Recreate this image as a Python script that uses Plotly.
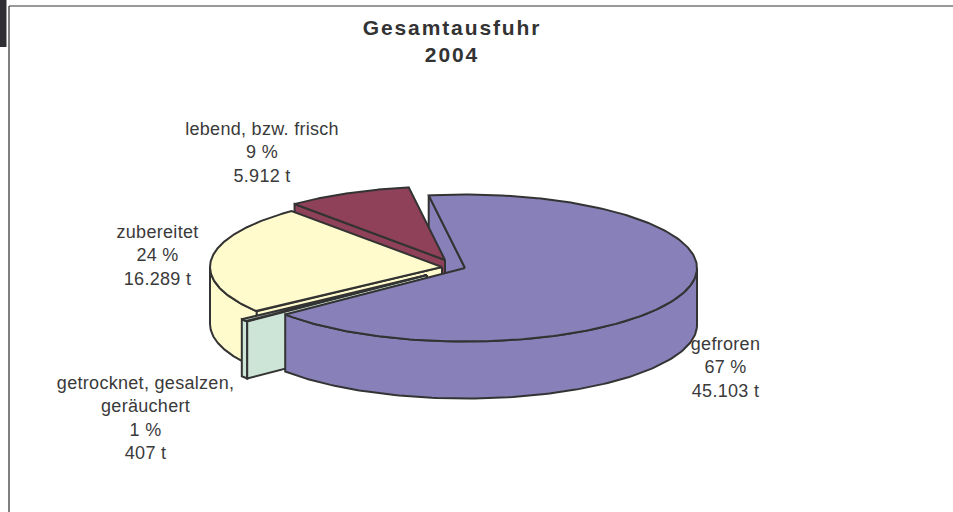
import numpy as np
import plotly.graph_objects as go

categories = ["gefroren", "getrocknet, gesalzen,<br>geräuchert", "zubereitet", "lebend, bzw. frisch"]
tonnes = [45103, 407, 16289, 5912]
percent_labels = ["67 %", "1 %", "24 %", "9 %"]
tonne_labels = ["45.103 t", "407 t", "16.289 t", "5.912 t"]
colors = ["#8780B9", "#CCE5D6", "#FFFBCD", "#8F4159"]
title_lines = ["Gesamtausfuhr", "2004"]

# pie projection
CX, CY, RX, RY, DEPTH = 465, 268, 232, 73.5, 57
START = -9
offsets = [(0, 0), (-38, 7), (-23, -1), (-20, -8)]
label_pos = [(725, 367), (145, 418), (157, 255), (262, 152)]
EDGE = "#333333"

total = sum(tonnes)
bounds = START + np.concatenate([[0], np.cumsum(tonnes)]) * 360 / total


def pt(a, ox, oy, dz=0):
    r = np.radians(a)
    return CX + ox + RX * np.sin(r), CY + oy - RY * np.cos(r) + dz


fig = go.Figure()


def poly(xs, ys, color):
    fig.add_trace(go.Scatter(x=list(xs) + [xs[0]], y=list(ys) + [ys[0]], mode="lines", fill="toself",
                             fillcolor=color, line=dict(color=EDGE, width=2), hoverinfo="skip",
                             showlegend=False))


def start_face(i):
    ox, oy = offsets[i]
    a = bounds[i]
    x, y = pt(a, ox, oy)
    ax, ay = CX + ox, CY + oy
    poly([ax, x, x, ax], [ay, y, y + DEPTH, ay + DEPTH], colors[i])


def rim(i):
    ox, oy = offsets[i]
    lo, hi = max(bounds[i], 90), min(bounds[i + 1], 270)
    if lo >= hi:
        return
    t = np.linspace(lo, hi, 120)
    x, y = pt(t, ox, oy)
    poly(np.r_[x, x[::-1]], np.r_[y, y[::-1] + DEPTH], colors[i])


def top(i):
    ox, oy = offsets[i]
    t = np.linspace(bounds[i], bounds[i + 1], 240)
    x, y = pt(t, ox, oy)
    poly(np.r_[CX + ox, x], np.r_[CY + oy, y], colors[i])


start_face(0)
start_face(3)
top(3)
rim(2)
start_face(2)
top(2)
rim(1)
start_face(1)
top(1)
rim(0)
top(0)

annotations = [dict(x=452, y=41, xref="x", yref="y", showarrow=False,
                    text="<b>" + "<br>".join(title_lines) + "</b>",
                    font=dict(family="Liberation Sans", size=21, color="#333333"))]
for c, p, n, (lx, ly) in zip(categories, percent_labels, tonne_labels, label_pos):
    annotations.append(dict(x=lx, y=ly, xref="x", yref="y", showarrow=False,
                            text=f"{c}<br>{p}<br>{n}",
                            font=dict(family="Liberation Sans", size=18, color="#3a3a3a")))

shapes = [
    dict(type="rect", x0=0, x1=6.5, y0=0, y1=47, fillcolor="#2e2e33", line_width=0),
    dict(type="line", x0=9, x1=953, y0=6, y1=6, line=dict(color="#777777", width=1.5)),
    dict(type="line", x0=9, x1=9, y0=6, y1=512, line=dict(color="#555555", width=1.5)),
]

fig.update_layout(width=953, height=512, margin=dict(l=0, r=0, t=0, b=0), autosize=False,
                  paper_bgcolor="white", plot_bgcolor="white", showlegend=False,
                  xaxis=dict(range=[0, 953], visible=False, fixedrange=True),
                  yaxis=dict(range=[512, 0], visible=False, fixedrange=True),
                  annotations=annotations, shapes=shapes)
post = """
document.body.style.margin = '0';
document.querySelectorAll('.annotation-text').forEach(function (t, i) {
  t.style.letterSpacing = i === 0 ? '1.9px' : '0.3px';
});
"""
fig.write_html("out.html", config=dict(displayModeBar=False), post_script=post)
